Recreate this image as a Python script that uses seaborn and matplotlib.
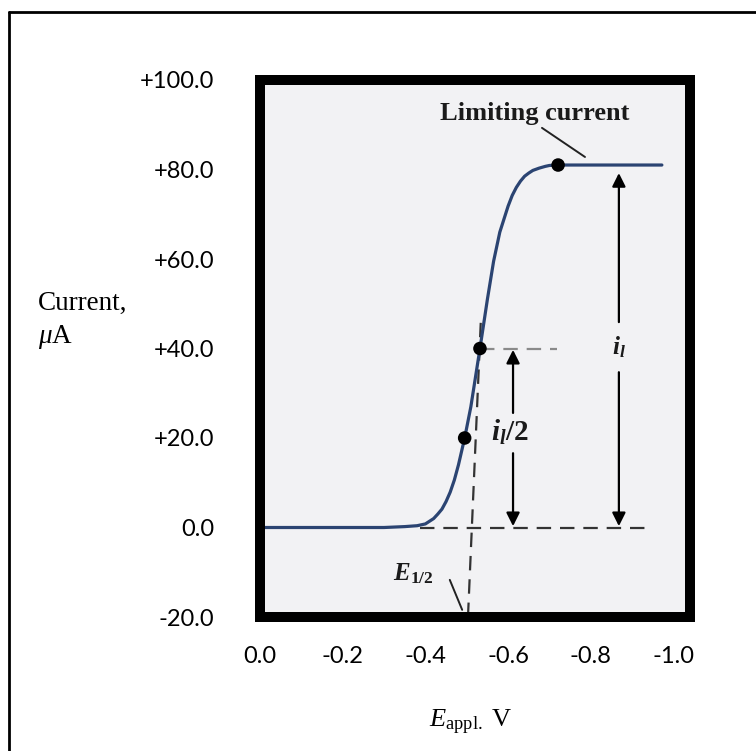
import matplotlib
matplotlib.use("Agg")
import matplotlib.pyplot as plt
from matplotlib.patches import Rectangle
from matplotlib.lines import Line2D
import seaborn as sns
import pandas as pd

# ---------------- data ----------------
potential = [0.0, -0.10, -0.20, -0.30, -0.35, -0.38, -0.40, -0.42, -0.43, -0.44,
             -0.45, -0.46, -0.47, -0.48, -0.495, -0.51, -0.532, -0.55, -0.565,
             -0.58, -0.60, -0.61, -0.62, -0.63, -0.64, -0.65, -0.66, -0.675,
             -0.69, -0.70, -0.72, -0.80, -0.90, -0.972]
current = [0, 0, 0, 0, 0.2, 0.4, 0.8, 2.0, 3.0, 4.1,
           5.8, 7.9, 10.6, 14.0, 20, 27, 40, 51, 59.5,
           66, 71.8, 74.2, 76.0, 77.4, 78.5, 79.2, 79.8, 80.3,
           80.7, 80.9, 81, 81, 81, 81]
marker_E = [-0.495, -0.532, -0.721]
marker_I = [20, 40, 81]
x_ticks = [0.0, -0.2, -0.4, -0.6, -0.8, -1.0]
x_tick_labels = ["0.0", "-0.2", "-0.4", "-0.6", "-0.8", "-1.0"]
x_minor = [-0.2, -0.4, -0.6, -0.8]
y_ticks = [-20, 0, 20, 40, 60, 80, 100]
y_tick_labels = ["-20.0", "0.0", "+20.0", "+40.0", "+60.0", "+80.0", "+100.0"]
y_minor = [20, 40, 60, 80]
limiting_current = 81
half_current = 40
half_wave_E = -0.532

df = pd.DataFrame({"E": potential, "I": current})
dots = pd.DataFrame({"E": marker_E, "I": marker_I})

# ---------------- style ----------------
sns.set_theme(style="white")
plt.rcParams["font.family"] = ["Lato", "DejaVu Sans"]
plt.rcParams["text.color"] = "black"
plt.rcParams["mathtext.fontset"] = "custom"
plt.rcParams["mathtext.rm"] = "Liberation Serif"
plt.rcParams["mathtext.it"] = "Liberation Serif:italic"
plt.rcParams["mathtext.bf"] = "Liberation Serif:bold"
plt.rcParams["mathtext.bfit"] = "Liberation Serif:italic:bold"

W, H = 756, 751
fig = plt.figure(figsize=(W / 100, H / 100), dpi=100)
fig.patch.set_facecolor("white")

L, R, T, B = 260, 690, 80, 617
ax = fig.add_axes([L / W, 1 - B / H, (R - L) / W, (B - T) / H])
ax.set_facecolor("#f2f2f4")

# curve and dots
sns.lineplot(data=df, x="E", y="I", ax=ax, color="#2b4472", lw=2.3,
             sort=False, estimator=None, zorder=3)
sns.scatterplot(data=dots, x="E", y="I", ax=ax, color="black", s=95,
                edgecolor="none", zorder=5)

dash = (0, (6.5, 4))
# zero baseline continuation
ax.plot([-0.387, -0.931], [0, 0], color="#333333", lw=1.6, ls=dash, zorder=2)
# half-current horizontal
ax.plot([half_wave_E, -0.718], [half_current, half_current], color="#8a8a8a",
        lw=1.6, ls=dash, zorder=2)
# E1/2 vertical (slightly tilted as in the scan)
ax.plot([-0.503, -0.534], [-20, 46], color="#333333", lw=1.6, ls=dash, zorder=2)

arr = dict(arrowstyle="-|>", mutation_scale=20, lw=1.6, color="black",
           shrinkA=0, shrinkB=0)
# i_l/2 arrow (split around label)
ax.annotate("", xy=(-0.612, 39.7), xytext=(-0.612, 25.6), arrowprops=arr)
ax.annotate("", xy=(-0.612, 0.3), xytext=(-0.612, 16.6), arrowprops=arr)
# i_l arrow
ax.annotate("", xy=(-0.868, 79.2), xytext=(-0.868, 45.9), arrowprops=arr)
ax.annotate("", xy=(-0.868, 0.3), xytext=(-0.868, 34.7), arrowprops=arr)

# annotations
ax.text(-0.665, 92.6, "Limiting current", family="Liberation Serif",
        weight="bold", size=19, ha="center", va="center", color="#1a1a1a")
ax.plot([-0.682, -0.786], [89.3, 82.8], color="#222222", lw=1.4)
ax.text(-0.605, 21.3, r"$\mathbfit{i}_{\mathbfit{l}}\mathbf{/2}$", size=21,
        ha="center", va="center", color="#1a1a1a")
ax.text(-0.868, 40.3, r"$\mathbfit{i}_{\mathbfit{l}}$", size=18,
        ha="center", va="center", color="#1a1a1a")
ax.text(-0.37, -10.3, r"$\mathbfit{E}_{\mathbf{1/2}}$", size=18,
        ha="center", va="center", color="#1a1a1a")
ax.plot([-0.459, -0.489], [-11.7, -18.4], color="#222222", lw=1.4)

# axes limits & ticks
ax.set_xlim(0.0, -1.04)
ax.set_ylim(-20, 100)
ax.set_xticks(x_ticks)
ax.set_xticklabels(x_tick_labels)
ax.set_yticks(y_ticks)
ax.set_yticklabels(y_tick_labels)
ax.set_xticks(x_minor, minor=True)
ax.set_yticks(y_minor, minor=True)
ax.tick_params(axis="x", which="major", length=0, pad=21, labelsize=17,
               labelcolor="black")
ax.tick_params(axis="y", which="major", length=0, pad=33, labelsize=17,
               labelcolor="black")
ax.tick_params(axis="both", which="minor", direction="in", length=13,
               width=1.8, color="#2a2a2a")
ax.set_xlabel("")
ax.set_ylabel("")

for s in ax.spines.values():
    s.set_visible(False)
ax.add_patch(Rectangle((0, 0), 1, 1, transform=ax.transAxes, fill=False,
                       lw=7.2, edgecolor="black", joinstyle="miter",
                       clip_on=False, zorder=6))

# axis titles
fig.text(38 / W, 1 - 310 / H, "Current,", family="Liberation Serif", size=19.5,
         ha="left", va="baseline", color="black")
fig.text(38 / W, 1 - 343 / H, r"$\mu$A", family="Liberation Serif", size=19.5,
         ha="left", va="baseline", color="black")
fig.text(471 / W, 1 - 727 / H, r"$E_{\mathrm{appl.}}$ V", family="Liberation Serif",
         size=19, ha="center", va="baseline", color="black")

# outer page frame
fig.add_artist(Line2D([9 / W, 9 / W], [1 - 12 / H, 0], transform=fig.transFigure,
                      color="black", lw=2))
fig.add_artist(Line2D([9 / W, 1], [1 - 12 / H, 1 - 12 / H],
                      transform=fig.transFigure, color="black", lw=2))

fig.savefig("out.png", dpi=100)
